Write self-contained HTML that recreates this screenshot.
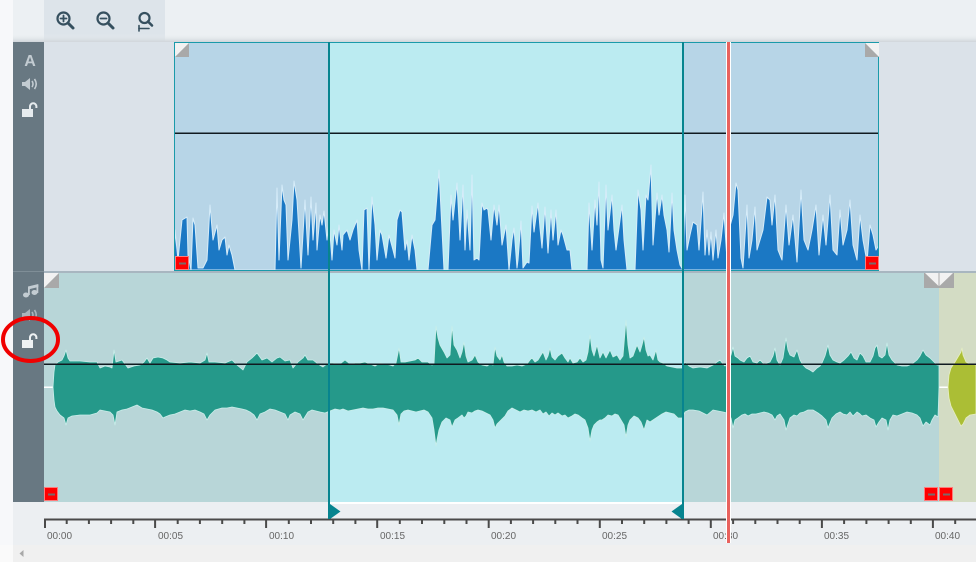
<!DOCTYPE html>
<html>
<head>
<meta charset="utf-8">
<style>
html,body{margin:0;padding:0;background:#fff;overflow:hidden;}
svg{display:block;}
text{font-family:"Liberation Sans",sans-serif;}
</style>
</head>
<body>
<svg width="976" height="562" viewBox="0 0 976 562" xmlns="http://www.w3.org/2000/svg">
<defs>
<linearGradient id="sh" x1="0" y1="0" x2="0" y2="1">
<stop offset="0" stop-color="#ecf0f3" stop-opacity="0"/>
<stop offset="1" stop-color="#cfd5da" stop-opacity="1"/>
</linearGradient>
</defs>
<rect x="0" y="0" width="976" height="562" fill="#fafafa"/>
<rect x="0" y="0" width="13" height="545" fill="#f7f8fa"/>
<rect x="13" y="0" width="963" height="42" fill="#ecf0f3"/>
<rect x="44" y="0" width="121" height="41" fill="#dde4ea"/>
<rect x="13" y="34" width="963" height="8" fill="url(#sh)"/>
<g stroke="#36505f" fill="none" stroke-linecap="round">
<circle cx="63.5" cy="18.5" r="6" stroke-width="2.2"/>
<line x1="63.5" y1="15.5" x2="63.5" y2="21.5" stroke-width="1.8"/>
<line x1="60.5" y1="18.5" x2="66.5" y2="18.5" stroke-width="1.8"/>
<line x1="68" y1="23" x2="73" y2="28" stroke-width="3"/>
<circle cx="103.5" cy="18.5" r="6" stroke-width="2.2"/>
<line x1="100.5" y1="18.5" x2="106.5" y2="18.5" stroke-width="1.8"/>
<line x1="108" y1="23" x2="113" y2="28" stroke-width="3"/>
<circle cx="144.5" cy="18" r="5" stroke-width="2.2"/>
<line x1="148" y1="21.5" x2="152" y2="25.5" stroke-width="2.6"/>
<line x1="139" y1="28.5" x2="149" y2="28.5" stroke-width="1.6"/>
<line x1="139" y1="25.5" x2="139" y2="31" stroke-width="1.6"/>
</g>
<rect x="13" y="42" width="31" height="460" fill="#687882"/>
<rect x="13" y="271" width="31" height="1" fill="#7f8e97"/>
<text x="30" y="66" font-size="16" font-weight="bold" fill="#c3ccd2" text-anchor="middle">A</text>
<polygon points="22,82 25,82 30,78 30,90 25,86 22,86" fill="#c3ccd2"/>
<path d="M32,81 q2,3 0,6 M34.5,79 q3.5,5 0,10" fill="none" stroke="#c3ccd2" stroke-width="1.6"/>
<rect x="22" y="109" width="11" height="8" fill="#e6ebee"/>
<path d="M30,109 v-2.5 a3.2,3.2 0 0 1 6.4,0 v1.5" fill="none" stroke="#e6ebee" stroke-width="2"/>
<g fill="#c3ccd2">
<ellipse cx="26" cy="295" rx="3" ry="2.5"/>
<ellipse cx="34.5" cy="292.5" rx="3" ry="2.5"/>
<rect x="28" y="287" width="1.8" height="8"/>
<rect x="36.5" y="285" width="1.8" height="8"/>
<polygon points="28,286.5 38.3,284 38.3,287 28,289.5"/>
</g>
<polygon points="22,313 25,313 30,309 30,321 25,317 22,317" fill="#aab5bc"/>
<path d="M32,312 q2,3 0,6 M34.5,310 q3.5,5 0,10" fill="none" stroke="#aab5bc" stroke-width="1.6"/>
<rect x="22" y="340" width="11" height="8" fill="#eef2f4"/>
<path d="M30,340 v-2.5 a3.2,3.2 0 0 1 6.4,0 v1.5" fill="none" stroke="#eef2f4" stroke-width="2"/>
<rect x="44" y="42" width="932" height="229" fill="#dbe2e9"/>
<rect x="174" y="42" width="705" height="229" fill="#b7d5e7"/>
<rect x="330" y="43" width="352" height="227" fill="#bbebf1"/>
<polygon fill="#1b78c4" stroke="#d6ecf9" stroke-width="1" stroke-linejoin="round" points="174,270 175,230 178,260 182,220 187,217 188,255 191,270 193,218 195,225 198,268 203,268 207,260 210,205 213,240 217,225 219,250 222,240 225,237 227,255 229,245 232,255 235,270 275,270 277,188 279,260 282,185 284,200 286,205 288,260 292,220 294,181 297,200 301,268 305,200 308,255 311,197 313,240 316,203 317,250 320,215 322,225 324,211 327,240 329,220 332,260 334,230 337,245 339,225 342,250 343,235 347,230 350,240 353,230 357,220 359,250 362,270 364,210 367,208 369,270 372,197 375,225 377,260 380,230 382,235 386,258 389,235 393,250 395,258 397,220 400,210 402,212 405,250 407,240 409,260 412,235 415,250 417,270 428,270 432,225 435,220 439,170 443,250 444,270 448,270 451,195 453,220 457,183 460,240 463,185 465,250 467,210 470,250 472,175 474,260 477,258 479,260 482,203 484,210 487,208 488,210 491,240 494,205 497,225 499,205 502,245 506,225 509,270 512,240 514,228 517,268 518,260 521,221 523,268 527,262 529,263 532,206 534,232 538,203 540,228 542,248 545,207 548,253 551,210 553,240 556,210 558,245 561,230 563,235 567,250 570,250 572,270 587,270 589,203 592,250 595,200 597,225 599,182 601,260 603,268 606,185 608,230 612,195 614,230 616,250 618,235 622,205 624,240 627,270 635,270 638,190 641,210 643,250 646,195 648,200 651,165 653,245 657,193 659,215 662,195 664,215 667,230 669,252 672,193 674,230 677,250 680,265 683,270 685,195 687,250 690,235 693,222 697,225 699,250 703,192 705,255 707,230 709,255 711,232 713,260 716,230 718,258 721,240 724,213 727,260 729,230 733,215 736,183 738,190 741,258 743,268 747,205 749,258 752,240 755,207 757,250 760,240 763,230 767,197 770,200 772,225 775,195 778,250 782,260 786,205 789,245 793,215 797,262 801,190 804,240 808,250 812,230 816,205 819,255 823,215 826,245 830,195 833,250 837,255 840,210 843,245 847,230 850,200 853,245 857,260 860,215 863,240 867,262 870,225 873,235 876,250 879,245 879,270"/>
<rect x="174" y="132.5" width="705" height="1.5" fill="#101a20"/>
<rect x="174.5" y="42.5" width="704" height="228" fill="none" stroke="#1a9aaa" stroke-width="1"/>
<rect x="44" y="271" width="932" height="2" fill="#a8b6c0"/>
<rect x="44" y="273" width="895" height="229" fill="#b8d6d8"/>
<rect x="939" y="273" width="37" height="229" fill="#d3dcc4"/>
<rect x="330" y="273" width="352" height="229" fill="#bbebf1"/>
<rect x="44" y="386.5" width="9" height="1.5" fill="#ffffff"/>
<rect x="939" y="386.5" width="9" height="1.5" fill="#ffffff"/>
<polygon fill="#25998a" stroke="#c9eeea" stroke-width="0.8" stroke-linejoin="round" points="53,387 54,372 55,365 58,362 62,360 64,356 66,350 68,358 70,361 80,361 90,362 97,362 100,368 105,366 110,367 112,368 114,350 116,362 122,360 128,368 134,366 140,365 144,362 147,358 150,363 153,358 158,357 163,358 167,360 170,362 180,363 190,362 200,363 205,360 207,353 209,362 215,362 225,363 232,360 237,365 243,370 247,362 252,358 257,353 262,360 267,358 272,362 277,358 280,357 285,361 290,360 293,368 298,362 303,358 305,355 308,360 313,360 318,364 323,367 328,363 333,363 340,364 345,360 350,364 355,363 360,363 365,362 370,364 375,366 380,363 385,364 390,365 393,366 396,363 399,348 401,362 405,362 410,361 415,360 418,358 422,362 428,362 432,365 434,364 436,326 438,338 440,345 444,352 447,358 450,355 452,326 454,345 457,350 460,358 462,352 464,342 466,356 468,362 472,360 475,355 478,362 482,365 487,366 490,364 493,365 495,347 497,356 500,360 502,355 504,362 507,366 512,366 517,365 522,366 527,364 530,360 532,358 535,362 538,360 541,355 543,352 546,360 548,356 550,348 552,357 555,360 558,356 562,353 565,358 568,362 570,358 573,363 577,362 580,358 583,362 586,360 588,352 590,335 592,350 594,356 597,345 600,358 603,352 606,358 608,354 610,350 613,357 617,355 620,360 623,356 626,320 628,345 630,358 633,356 637,345 640,352 642,345 644,337 646,350 648,356 650,355 653,360 656,350 658,360 660,362 663,363 667,366 672,367 677,368 682,368 685,362 689,366 693,368 700,367 707,368 713,365 717,362 720,360 723,364 725,366 728,362 731,355 733,347 735,356 738,358 740,360 744,362 747,358 750,356 753,362 757,363 760,360 764,364 767,363 770,362 773,356 775,348 777,360 780,365 783,358 786,338 788,350 790,355 794,357 797,350 800,360 803,365 806,368 810,370 813,372 817,368 820,366 822,363 825,356 828,345 830,355 833,360 837,362 840,363 844,360 848,356 851,352 854,358 857,360 860,353 863,356 866,362 870,362 873,356 875,348 877,345 879,356 882,358 885,355 887,343 889,355 892,360 895,363 897,365 902,366 907,366 912,364 917,360 920,356 923,350 926,355 930,358 934,362 937,365 939,365 939,387 938,417 935,415 932,420 930,425 926,422 923,426 920,418 917,415 912,413 907,412 902,414 897,416 893,415 890,420 888,430 886,420 882,418 879,422 876,427 874,420 870,418 866,415 862,416 860,414 857,412 853,416 850,412 847,415 843,414 840,412 836,414 832,418 828,428 826,420 822,416 818,413 813,410 808,410 804,412 800,413 797,416 794,415 790,418 786,430 784,420 780,414 777,416 775,420 772,415 768,413 764,412 760,413 756,414 752,414 748,416 745,414 742,415 738,418 735,420 733,428 731,418 727,413 723,412 718,411 713,410 707,415 703,413 699,411 693,410 689,410 685,412 682,418 678,418 674,414 670,413 666,412 662,414 659,416 656,418 653,420 650,422 647,420 644,430 641,422 638,418 634,416 630,420 628,425 626,437 624,425 621,420 618,415 615,414 612,416 608,415 605,418 602,420 600,420 597,422 594,425 592,430 590,441 588,428 585,420 582,418 578,415 575,414 572,416 568,418 565,415 562,416 558,413 555,415 552,413 549,416 546,412 543,414 540,410 536,412 532,410 528,411 524,410 520,412 516,410 512,408 508,411 505,416 503,418 500,421 497,424 495,428 493,420 490,415 486,413 482,411 478,410 475,411 472,413 468,412 466,416 464,418 462,415 458,418 455,420 452,427 450,420 446,418 442,422 439,430 437,440 436,446 434,430 432,418 428,412 424,410 420,411 416,412 412,411 408,410 404,411 401,414 399,425 397,415 393,410 388,409 383,408 378,408 373,409 368,409 363,408 358,409 353,410 348,411 343,409 340,410 335,409 330,411 325,413 320,412 316,411 312,410 308,412 303,420 300,414 295,412 290,415 288,420 285,414 280,412 275,410 270,409 265,412 260,414 257,420 254,415 250,412 246,410 242,409 237,408 232,407 227,408 222,408 215,410 210,415 207,420 204,414 200,412 195,410 190,411 185,410 180,412 175,414 170,415 165,417 163,418 160,414 157,412 152,410 147,409 142,408 137,405 132,407 127,409 122,410 117,412 115,425 113,415 110,412 105,411 100,410 97,413 90,415 80,415 72,416 68,418 66,425 64,418 60,415 57,411 55,407 54,400 53,387"/>
<polygon fill="#abbe35" stroke="#e6efc0" stroke-width="0.8" stroke-linejoin="round" points="948,387 949,375 951,368 955,362 958,357 961,352 962,348 963,355 966,362 970,364 976,365 976,414 970,415 966,418 963,424 961,426 958,420 955,414 951,406 949,398 948,387"/>
<rect x="44" y="363.5" width="932" height="1.5" fill="#101a20"/>
<polygon points="175,43 189,43 175,57" fill="#f2f2f2"/>
<polygon points="175,57 189,43 189,57" fill="#a9a9a9"/>
<polygon points="865,43 879,43 879,57" fill="#f2f2f2"/>
<polygon points="865,43 879,57 865,57" fill="#a9a9a9"/>
<polygon points="44,273 59,273 44,288" fill="#f2f2f2"/>
<polygon points="44,288 59,273 59,288" fill="#a9a9a9"/>
<rect x="924" y="273" width="30" height="15" fill="#a9a9a9"/>
<polygon points="925,273 938.5,273 938.5,286" fill="#f2f2f2"/>
<polygon points="939.5,273 953,273 939.5,286" fill="#f2f2f2"/>
<g fill="#ff0000" stroke="#ff7b7b" stroke-width="1">
<rect x="175.5" y="256.5" width="13" height="13"/>
<rect x="865.5" y="256.5" width="13" height="13"/>
<rect x="44.5" y="487.5" width="13" height="13"/>
<rect x="924.5" y="487.5" width="13" height="13"/>
<rect x="939.5" y="487.5" width="13" height="13"/>
</g>
<g fill="#7a6a6a">
<rect x="179" y="262.5" width="7" height="2"/>
<rect x="869" y="262.5" width="7" height="2"/>
<rect x="48" y="493.5" width="7" height="2"/>
<rect x="928" y="493.5" width="7" height="2"/>
<rect x="943" y="493.5" width="7" height="2"/>
</g>
<rect x="13" y="502" width="963" height="43" fill="#eceff2"/>
<rect x="330" y="502" width="352" height="2" fill="#ffffff"/>
<rect x="44" y="518.5" width="932" height="2" fill="#4a4a4a"/>
<path stroke="#4a4a4a" stroke-width="2" fill="none" d="M45,519v9 M155.1,519v9 M266.1,519v9 M377.2,519v9 M488.7,519v9 M599.8,519v9 M710.8,519v9 M821.9,519v9 M932.9,519v9"/>
<path stroke="#4a4a4a" stroke-width="2" fill="none" d="M66.7,519v5 M88.9,519v5 M111.1,519v5 M133.3,519v5 M177.7,519v5 M199.9,519v5 M222.2,519v5 M244.4,519v5 M288.8,519v5 M311,519v5 M333.2,519v5 M355.4,519v5 M399.8,519v5 M422,519v5 M444.3,519v5 M466.5,519v5 M510.9,519v5 M533.1,519v5 M555.3,519v5 M577.5,519v5 M622,519v5 M644.2,519v5 M666.4,519v5 M688.6,519v5 M733.1,519v5 M755.3,519v5 M777.5,519v5 M799.7,519v5 M844.1,519v5 M866.4,519v5 M888.6,519v5 M910.8,519v5 M955.2,519v5"/>
<g font-size="10" fill="#666666">
<text x="47" y="539">00:00</text>
<text x="158" y="539">00:05</text>
<text x="269" y="539">00:10</text>
<text x="380" y="539">00:15</text>
<text x="491" y="539">00:20</text>
<text x="602" y="539">00:25</text>
<text x="713" y="539">00:30</text>
<text x="824" y="539">00:35</text>
<text x="935" y="539">00:40</text>
</g>
<rect x="13" y="545" width="963" height="17" fill="#f0f0f0"/>
<polygon points="23.5,550 23.5,557 19.5,553.5" fill="#a8a8a8"/>
<rect x="328" y="42" width="2" height="477" fill="#07848f"/>
<rect x="682" y="42" width="2" height="477" fill="#07848f"/>
<polygon points="330,504 340.5,511.5 330,519" fill="#07848f"/>
<polygon points="682,504 671.5,511.5 682,519" fill="#07848f"/>
<rect x="726" y="42" width="5" height="501" fill="#ffffff"/>
<rect x="727" y="42" width="3" height="501" fill="#e8625e"/>
<ellipse cx="30.5" cy="339.5" rx="27.5" ry="21.5" fill="none" stroke="#f00000" stroke-width="4"/>
</svg>
</body>
</html>
